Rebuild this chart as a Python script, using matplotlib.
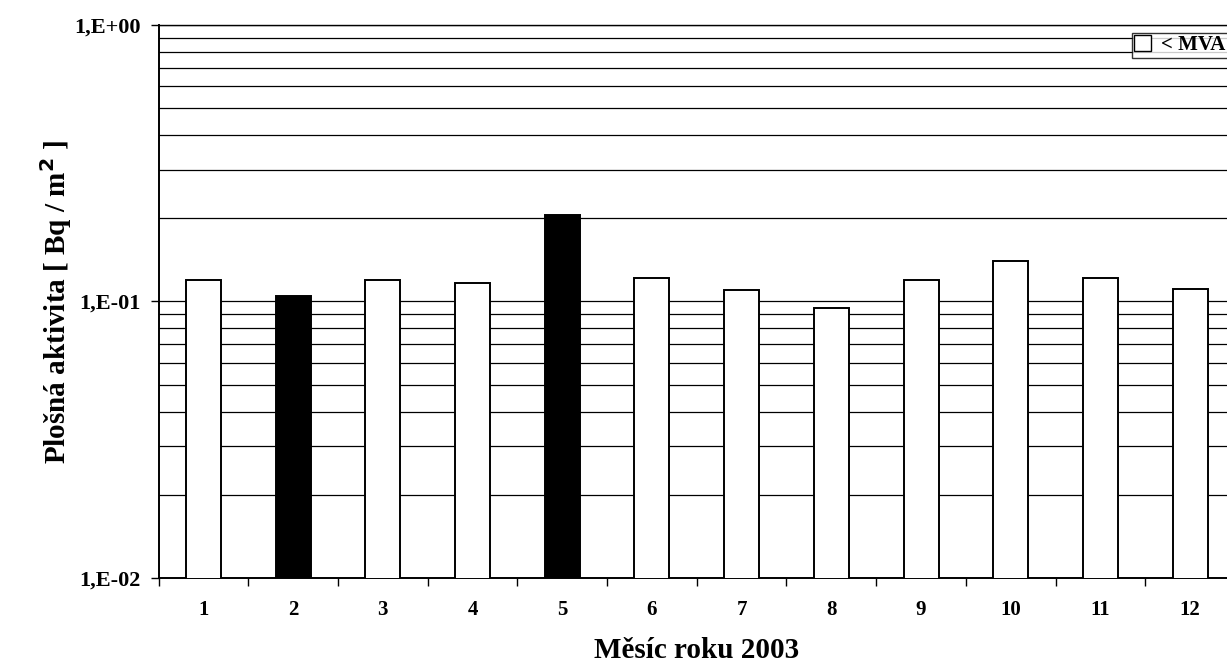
import numpy as np
import matplotlib as mpl
mpl.use('Agg')
import matplotlib.pyplot as plt
from matplotlib.patches import Patch
from matplotlib.ticker import FixedLocator, NullFormatter

plt.rcParams['font.family'] = ['Liberation Serif', 'DejaVu Serif']
plt.rcParams['font.weight'] = 'bold'

# monthly surface activity, 2003
months = ['1', '2', '3', '4', '5', '6', '7', '8', '9', '10', '11', '12']
activity = [0.120, 0.105, 0.120, 0.117, 0.205, 0.122, 0.110, 0.095, 0.120, 0.140, 0.122, 0.111]
# True = measured value, False = below MVA (white bar)
measured = [False, True, False, False, True, False, False, False, False, False, False, False]

fig = plt.figure(figsize=(12.27, 6.66), dpi=100)
ax = fig.add_axes([0.1292, 0.1321, 1.0065 - 0.1292, 0.9625 - 0.1321])

x = np.arange(len(months))
colors = ['black' if m else 'white' for m in measured]
ax.bar(x, activity, width=0.39, color=colors, edgecolor='black', linewidth=1.4, zorder=3)

ax.set_yscale('log')
ax.set_ylim(0.01, 1.0)
ax.set_xlim(-0.5, len(months) - 0.5)

# grid on every major and minor decade step
ax.yaxis.grid(True, which='both', color='black', linewidth=0.9, zorder=0)
ax.set_yticks([0.01, 0.1, 1.0])
ax.set_yticklabels(['1,E-02', '1,E-01', '1,E+00'])
ax.yaxis.set_minor_formatter(NullFormatter())
ax.tick_params(axis='y', which='major', direction='out', length=6, width=1, pad=7, labelsize=16)
ax.tick_params(axis='y', which='minor', length=0)

# tick marks between months, labels under the bars
ax.xaxis.set_major_locator(FixedLocator(np.arange(len(months) + 1) - 0.5))
ax.xaxis.set_major_formatter(NullFormatter())
ax.xaxis.set_minor_locator(FixedLocator(x))
ax.set_xticklabels(months, minor=True)
ax.tick_params(axis='x', which='major', direction='out', length=6, width=1)
ax.tick_params(axis='x', which='minor', length=0, pad=16, labelsize=15)

for side in ['left', 'bottom', 'top', 'right']:
    ax.spines[side].set_linewidth(1.4)
ax.spines['top'].set_linewidth(1.0)

ax.set_ylabel('Plošná aktivita [ Bq / m$^\\mathbf{2}$ ]', fontsize=21, fontweight='bold', labelpad=0)
ax.set_xlabel('Měsíc roku 2003', fontsize=21, fontweight='bold', labelpad=12)

handle = Patch(facecolor='white', edgecolor='black', linewidth=1.0)
leg = ax.legend([handle], ['< MVA'], loc='upper right', bbox_to_anchor=(0.9935, 0.986),
                fontsize=15, frameon=True, fancybox=False, edgecolor='black',
                handlelength=0.8, handleheight=0.8, handletextpad=0.5,
                borderpad=0.12, borderaxespad=0.0)
leg.get_frame().set_linewidth(1.0)
leg.set_zorder(5)

fig.savefig('out.png', dpi=100)
